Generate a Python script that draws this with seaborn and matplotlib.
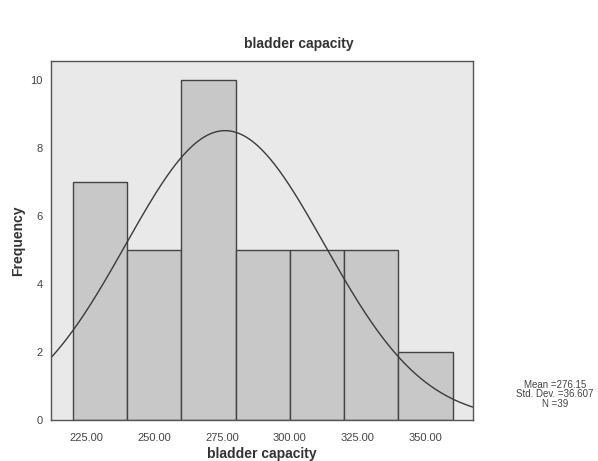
import numpy as np
import seaborn as sns
import matplotlib.pyplot as plt

# histogram bins (bladder capacity) and counts
bin_edges = [220, 240, 260, 280, 300, 320, 340, 360]
counts = [7, 5, 10, 5, 5, 5, 2]
x_ticks = [225, 250, 275, 300, 325, 350]
y_ticks = [0, 2, 4, 6, 8, 10]
mean_val = 276.15
sd_val = 36.607
n_val = 39

bin_centers = [(a + b) / 2 for a, b in zip(bin_edges[:-1], bin_edges[1:])]

sns.set_style("white")
plt.rcParams['font.family'] = ['Liberation Sans', 'DejaVu Sans']

fig = plt.figure(figsize=(5.98, 4.61), dpi=100)
ax = fig.add_axes([0.0853, 0.0889, 0.7057, 0.7791])
ax.set_facecolor('#e9e9e9')

sns.histplot(x=bin_centers, weights=counts, bins=bin_edges, ax=ax,
             color='#c8c8c8', alpha=1, edgecolor='#444444', linewidth=1.0)

# normal curve scaled to the histogram
xs = np.linspace(212, 368, 300)
ys = n_val * 20 / (sd_val * np.sqrt(2 * np.pi)) * np.exp(-0.5 * ((xs - mean_val) / sd_val) ** 2)
sns.lineplot(x=xs, y=ys, ax=ax, color='#3a3a3a', linewidth=1.0)

ax.set_xlim(212, 367.5)
ax.set_ylim(0, 10.55)
ax.set_xticks(x_ticks)
ax.set_xticklabels([f"{v:.2f}" for v in x_ticks])
ax.set_yticks(y_ticks)
ax.tick_params(axis='x', pad=5)
ax.tick_params(axis='both', direction='out', length=4, width=1, color='#555555',
               labelsize=8, labelcolor='#444444')
ax.tick_params(axis='y', pad=2)
for s in ax.spines.values():
    s.set_color('#555555')
    s.set_linewidth(1.0)

ax.set_xlabel('bladder capacity', fontsize=10, fontweight='bold', color='#333333', labelpad=3)
ax.set_ylabel('Frequency', fontsize=10, fontweight='bold', color='#333333', labelpad=4)
fig.text(0.5, 0.905, 'bladder capacity', ha='center', va='center',
         fontsize=10, fontweight='bold', color='#333333')
fig.text(0.928, 0.145, 'Mean =276.15\nStd. Dev. =36.607\nN =39', ha='center', va='center',
         fontsize=7, color='#444444', linespacing=0.95)

fig.savefig('out.png', dpi=100)
